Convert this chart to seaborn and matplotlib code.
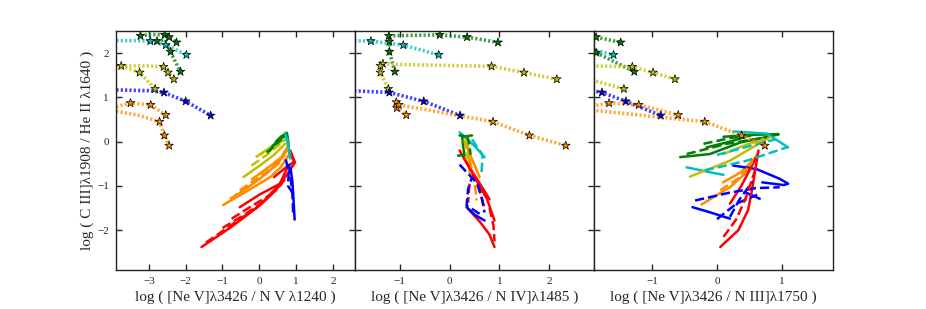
import matplotlib
matplotlib.use("Agg")
import matplotlib.pyplot as plt
import pandas as pd
import seaborn as sns

# series keys (one colour each in the figure)
SERIES = ["Z1", "Z2", "Z3", "Z4", "Z5", "Z6"]
PALETTE = {"Z1": "#0000ff", "Z2": "#00bfbf", "Z3": "#008000",
           "Z4": "#bfbf00", "Z5": "#ff8c00", "Z6": "#ff0000"}

X_LABELS = [
    "log ( [Ne V]\u03bb3426 / N V \u03bb1240 )",
    "log ( [Ne V]\u03bb3426 / N IV]\u03bb1485 )",
    "log ( [Ne V]\u03bb3426 / N III]\u03bb1750 )",
]
Y_LABEL = "log ( C III]\u03bb1908 / He II \u03bb1640 )"
X_LIMS = [(-3.9, 2.6), (-1.9, 2.9), (-1.9, 1.8)]
X_TICKS = [[-3, -2, -1, 0, 1, 2], [-1, 0, 1, 2], [-1, 0, 1]]
Y_TICKS = [-2, -1, 0, 1, 2]

# ---- panel 1: N V 1240 ----
# dotted tracks: (series, x, y, star flag)
p1_dotted = [
    ("Z2", [-4.0, -3.3, -2.96, -2.54, -1.98], [2.28, 2.28, 2.27, 2.18, 1.96], [0, 0, 1, 1, 1]),
    ("Z3", [-3.23, -2.9, -2.57, -2.45, -2.25], [2.39, 2.42, 2.41, 2.36, 2.24], [1, 0, 1, 1, 1]),
    ("Z3", [-2.78, -2.55, -2.41, -2.28, -2.14], [2.27, 2.30, 2.03, 1.80, 1.58], [1, 0, 1, 0, 1]),
    ("Z4", [-4.0, -3.75, -3.0, -2.6, -2.48, -2.32], [1.73, 1.71, 1.71, 1.69, 1.56, 1.41], [0, 1, 0, 1, 1, 1]),
    ("Z4", [-3.75, -3.25, -2.83], [1.71, 1.56, 1.19], [0, 1, 1]),
    ("Z1", [-4.0, -3.0, -2.59, -2.0, -1.32], [1.17, 1.15, 1.11, 0.91, 0.59], [0, 0, 1, 1, 1]),
    ("Z5", [-4.0, -3.7, -3.5, -2.95, -2.54], [0.76, 0.83, 0.87, 0.83, 0.60], [0, 0, 1, 1, 1]),
    ("Z5", [-4.0, -3.3, -2.71, -2.58, -2.45], [0.70, 0.60, 0.45, 0.14, -0.09], [0, 0, 1, 1, 1]),
]
p1_solid = [
    ("Z6", [-1.57, -0.8, 0.0, 0.52, 0.75, 0.97, 0.84], [-2.38, -1.95, -1.45, -0.99, -0.75, -0.47, -0.2]),
    ("Z6", [-0.53, 0.0, 0.56, 0.79], [-1.48, -1.2, -0.95, -0.54]),
    ("Z6", [0.4, 0.7, 0.95, 0.85], [-0.8, -0.6, -0.45, -0.3]),
    ("Z5", [-0.98, -0.3, 0.3, 0.56, 0.8], [-1.43, -1.1, -0.8, -0.6, -0.3]),
    ("Z5", [-0.6, 0.0, 0.5, 0.75], [-1.2, -0.85, -0.5, -0.2]),
    ("Z5", [-0.2, 0.3, 0.6, 0.78], [-0.85, -0.55, -0.35, -0.1]),
    ("Z4", [-0.43, 0.0, 0.4, 0.7], [-0.8, -0.55, -0.3, -0.05]),
    ("Z4", [0.0, 0.35, 0.7], [-0.3, -0.1, 0.05]),
    ("Z3", [0.25, 0.45, 0.6, 0.72], [-0.24, -0.05, 0.08, 0.17]),
    ("Z3", [0.45, 0.6, 0.75, 0.78, 0.8], [0.0, 0.12, 0.2, 0.05, -0.1]),
    ("Z2", [0.7, 0.78, 0.84], [0.2, -0.05, -0.35]),
    ("Z1", [0.85, 0.9, 0.93, 0.96], [-0.6, -0.9, -1.3, -1.76]),
]
p1_dashed = [
    ("Z6", [-1.45, -0.7, 0.0, 0.45, 0.7], [-2.28, -1.85, -1.45, -1.1, -0.85]),
    ("Z6", [-1.0, -0.4, 0.2, 0.6], [-1.95, -1.65, -1.3, -0.95]),
    ("Z6", [-0.75, -0.2, 0.3, 0.6], [-1.74, -1.45, -1.2, -0.95]),
    ("Z5", [-0.8, -0.2, 0.3, 0.65], [-1.3, -0.95, -0.65, -0.4]),
    ("Z5", [-0.53, 0.0, 0.4, 0.7], [-1.1, -0.8, -0.55, -0.3]),
    ("Z4", [-0.21, 0.2, 0.5, 0.72], [-0.54, -0.3, -0.1, 0.05]),
    ("Z4", [-0.1, 0.3, 0.6], [-0.35, -0.15, 0.0]),
    ("Z3", [0.34, 0.5, 0.68], [-0.12, 0.02, 0.12]),
    ("Z3", [0.2, 0.4, 0.6], [-0.25, -0.1, 0.05]),
    ("Z2", [0.75, 0.8, 0.86], [0.1, -0.2, -0.5]),
    ("Z1", [0.72, 0.8, 0.78, 0.9], [-0.4, -0.7, -1.0, -1.15]),
    ("Z1", [0.8, 0.85, 0.9, 0.92], [-0.5, -0.8, -1.2, -1.6]),
]

# ---- panel 2: N IV] 1485 ----
p2_dotted = [
    ("Z2", [-2.0, -1.58, -0.93, -0.22], [2.28, 2.27, 2.18, 1.96], [0, 1, 1, 1]),
    ("Z3", [-1.22, -0.2, 0.35, 0.97], [2.39, 2.41, 2.36, 2.24], [1, 1, 1, 1]),
    ("Z3", [-1.22, -1.21, -1.21, -1.1], [2.39, 2.26, 2.03, 1.58], [0, 1, 1, 1]),
    ("Z4", [-1.34, -1.0, 0.84, 1.49, 2.15], [1.76, 1.74, 1.70, 1.56, 1.41], [1, 0, 1, 1, 1]),
    ("Z4", [-1.39, -1.39, -1.23], [1.71, 1.56, 1.19], [1, 1, 1]),
    ("Z1", [-2.0, -1.21, -0.52, 0.21], [1.15, 1.11, 0.91, 0.59], [0, 1, 1, 1]),
    ("Z5", [-1.07, -1.06, -0.87], [0.89, 0.76, 0.60], [1, 1, 1]),
    ("Z5", [-1.02, 0.87, 1.6, 2.33], [0.83, 0.45, 0.14, -0.09], [1, 1, 1, 1]),
]
p2_solid = [
    ("Z2", [0.2, 0.5, 0.7], [0.21, -0.1, -0.35]),
    ("Z3", [0.2, 0.3, 0.45], [0.14, 0.12, 0.14]),
    ("Z3", [0.25, 0.27, 0.3], [0.14, -0.1, -0.32]),
    ("Z4", [0.35, 0.38, 0.4], [0.12, -0.3, -0.73]),
    ("Z5", [0.3, 0.45, 0.6], [0.0, -0.4, -0.8]),
    ("Z6", [0.2, 0.5, 0.75, 0.9], [-0.2, -0.8, -1.3, -1.78]),
    ("Z6", [0.37, 0.6, 0.8, 0.9], [-1.52, -1.8, -2.1, -2.38]),
    ("Z6", [0.3, 0.55, 0.8], [-0.4, -0.85, -1.3]),
    ("Z1", [0.34, 0.5, 0.7], [-1.48, -1.65, -1.78]),
]
p2_dashed = [
    ("Z2", [0.45, 0.66, 0.64], [0.05, -0.3, -0.69]),
    ("Z3", [0.15, 0.3, 0.4], [-0.32, -0.3, -0.25]),
    ("Z3", [0.35, 0.4, 0.42], [0.14, -0.1, -0.3]),
    ("Z4", [0.3, 0.35], [0.05, -0.4]),
    ("Z5", [0.4, 0.5, 0.54], [-0.4, -0.9, -1.33]),
    ("Z6", [0.4, 0.38, 0.37], [-0.95, -1.2, -1.38]),
    ("Z6", [0.8, 0.88, 0.9], [-1.5, -1.9, -2.25]),
    ("Z6", [0.45, 0.6, 0.7], [-0.7, -1.1, -1.5]),
    ("Z1", [0.2, 0.35, 0.56, 0.65, 0.7], [-0.52, -0.7, -0.95, -1.3, -1.6]),
    ("Z1", [0.6, 0.34, 0.37, 0.45], [-1.63, -1.44, -1.07, -0.8]),
]

# ---- panel 3: N III] 1750 ----
p3_dotted = [
    ("Z3", [-2.0, -1.87, -1.49], [2.41, 2.36, 2.24], [0, 1, 1]),
    ("Z3", [-2.0, -1.87, -1.28], [2.05, 2.01, 1.58], [0, 1, 1]),
    ("Z2", [-2.0, -1.6], [2.10, 1.96], [0, 1]),
    ("Z4", [-2.0, -1.31, -0.99, -0.65], [1.71, 1.69, 1.56, 1.41], [0, 1, 1, 1]),
    ("Z4", [-2.0, -1.44], [1.42, 1.19], [0, 1]),
    ("Z1", [-2.0, -1.78, -1.41, -0.87], [1.17, 1.11, 0.91, 0.59], [0, 1, 1, 1]),
    ("Z5", [-2.0, -1.67, -1.21, -0.6], [0.79, 0.87, 0.83, 0.60], [0, 1, 1, 1]),
    ("Z5", [-2.0, -0.19, 0.38, 0.74], [0.72, 0.45, 0.14, -0.09], [0, 1, 1, 1]),
]
p3_solid = [
    ("Z3", [-0.57, -0.11, 0.36, 0.95], [-0.35, -0.28, -0.02, 0.16]),
    ("Z3", [0.1, 0.5, 0.95], [0.11, 0.15, 0.17]),
    ("Z3", [-0.16, 0.2, 0.51], [-0.13, 0.0, 0.14]),
    ("Z2", [-0.47, -0.15, 0.1], [-0.58, -0.68, -0.75]),
    ("Z2", [0.25, 0.77, 1.1], [0.23, 0.18, -0.13]),
    ("Z4", [-0.42, 0.2, 0.82], [-0.79, -0.43, 0.1]),
    ("Z4", [0.1, 0.4, 0.72], [-0.28, -0.1, 0.06]),
    ("Z5", [-0.24, 0.2, 0.46, 0.64], [-1.42, -1.03, -0.69, -0.24]),
    ("Z5", [0.09, 0.36, 0.6], [-0.92, -0.7, -0.35]),
    ("Z1", [-0.38, -0.1, 0.2], [-1.48, -1.6, -1.74]),
    ("Z1", [0.25, 0.61, 0.97, 1.1, 1.03, 0.7], [-0.54, -0.62, -0.84, -0.95, -0.98, -0.92]),
    ("Z1", [0.43, 0.66], [-1.14, -1.29]),
    ("Z6", [0.05, 0.33, 0.48, 0.54, 0.64], [-2.38, -2.0, -1.55, -1.1, -0.2]),
    ("Z6", [0.2, 0.38, 0.61], [-1.4, -0.99, -0.35]),
]
p3_dashed = [
    ("Z3", [-0.47, 0.15, 0.77], [-0.28, -0.05, 0.1]),
    ("Z3", [-0.21, 0.2, 0.6], [-0.05, 0.08, 0.16]),
    ("Z2", [-0.19, 0.46, 1.08], [-0.65, -0.43, -0.13]),
    ("Z2", [0.0, 0.5, 0.9], [-0.3, -0.1, 0.05]),
    ("Z5", [0.05, 0.36, 0.55], [-1.1, -0.8, -0.45]),
    ("Z1", [-0.34, 0.2, 0.6, 0.97], [-1.33, -1.15, -1.05, -1.03]),
    ("Z1", [0.0, 0.3, 0.62], [-1.75, -1.4, -1.2]),
    ("Z1", [0.2, 0.35, 0.55], [-1.7, -1.3, -0.9]),
    ("Z6", [0.1, 0.3, 0.45, 0.6], [-2.15, -1.75, -1.25, -0.6]),
]

PANELS = [
    (p1_dotted, p1_solid, p1_dashed),
    (p2_dotted, p2_solid, p2_dashed),
    (p3_dotted, p3_solid, p3_dashed),
]


def to_frame(tracks):
    rows = []
    for i, t in enumerate(tracks):
        series, xs, ys = t[0], t[1], t[2]
        flags = t[3] if len(t) > 3 else [0] * len(xs)
        for x, y, f in zip(xs, ys, flags):
            rows.append({"track": i, "series": series, "x": x, "y": y, "star": f})
    return pd.DataFrame(rows)


def draw_tracks(ax, df, ls, lw, alpha=1.0):
    for _, grp in df.groupby("track", sort=True):
        sns.lineplot(data=grp, x="x", y="y", sort=False, estimator=None,
                     color=PALETTE[grp["series"].iloc[0]], lw=lw, ls=ls,
                     alpha=alpha, ax=ax, legend=False)


sns.set_style("ticks")
plt.rcParams["font.family"] = ["Liberation Serif", "DejaVu Serif"]

fig, axes = plt.subplots(1, 3, sharey=True, figsize=(9.26, 3.09), dpi=100)
fig.subplots_adjust(left=0.125, right=0.9, top=0.9, bottom=0.126, wspace=0)

for k, (ax, (dotted, solid, dashed)) in enumerate(zip(axes, PANELS)):
    draw_tracks(ax, to_frame(solid), "-", 1.8)
    draw_tracks(ax, to_frame(dashed), "--", 1.8)
    dot_df = to_frame(dotted)
    draw_tracks(ax, dot_df, (0, (0.6, 0.6)), 2.6, alpha=0.75)
    stars = dot_df[dot_df["star"] == 1]
    sns.scatterplot(data=stars, x="x", y="y", hue="series", palette=PALETTE,
                    marker="*", s=42, edgecolor="black", linewidth=0.5,
                    ax=ax, legend=False, zorder=5)

    ax.set_xlim(*X_LIMS[k])
    ax.set_ylim(-2.9, 2.5)
    ax.set_xticks(X_TICKS[k])
    ax.set_yticks(Y_TICKS)
    ax.tick_params(direction="in", top=True, right=True, length=4,
                   width=1, labelsize=8, pad=5)
    for sp in ax.spines.values():
        sp.set_linewidth(1)
        sp.set_color("#222222")
    ax.set_xlabel(X_LABELS[k], fontsize=11, labelpad=3)
    ax.set_ylabel("")

axes[0].set_ylabel(Y_LABEL, fontsize=11, labelpad=2)

fig.savefig("out.png", dpi=100)
